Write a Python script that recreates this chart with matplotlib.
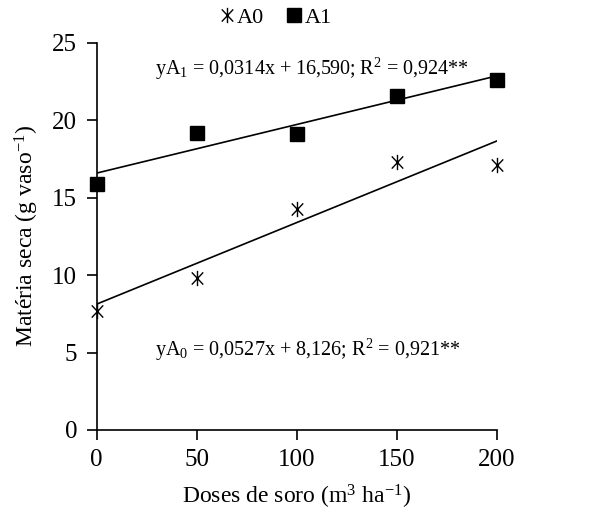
import matplotlib
matplotlib.use("Agg")
import matplotlib.pyplot as plt
from matplotlib.path import Path
import numpy as np

plt.rcParams['font.family'] = ['Liberation Serif', 'DejaVu Serif']
plt.rcParams['mathtext.fontset'] = 'custom'
plt.rcParams['mathtext.rm'] = 'Liberation Serif'
plt.rcParams['mathtext.it'] = 'Liberation Serif:italic'

doses = [0, 50, 100, 150, 200]
a0 = [7.7, 9.8, 14.3, 17.3, 17.1]
a1 = [15.9, 19.2, 19.1, 21.6, 22.6]
fit_a0 = (0.0527, 8.126)
fit_a1 = (0.0314, 16.590)
xticks = [0, 50, 100, 150, 200]
yticks = [0, 5, 10, 15, 20, 25]

# asterisk-like marker: vertical bar plus an X
star_path = Path(
    [(0, -1), (0, 1), (-0.75, -0.8), (0.75, 0.8), (-0.75, 0.8), (0.75, -0.8)],
    [Path.MOVETO, Path.LINETO, Path.MOVETO, Path.LINETO, Path.MOVETO, Path.LINETO],
)

fig = plt.figure(figsize=(6.12, 5.23), dpi=100)
ax = fig.add_axes([0.158, 0.178, 0.654, 0.74])

xs = np.array([0, 200])
ax.plot(xs, fit_a1[0] * xs + fit_a1[1], color='black', lw=1.2, zorder=1)
ax.plot(xs, fit_a0[0] * xs + fit_a0[1], color='black', lw=1.2, zorder=1)
ax.plot(doses, a0, linestyle='none', marker=star_path, markersize=11,
        markeredgewidth=1.0, color='black', label='A0', clip_on=False, zorder=3)
ax.plot(doses, a1, linestyle='none', marker='s', markersize=10,
        color='black', label='A1', clip_on=False, zorder=3)

ax.set_xlim(0, 200)
ax.set_ylim(0, 25)
ax.set_xticks(xticks)
ax.set_yticks(yticks)
ax.spines['top'].set_visible(False)
ax.spines['right'].set_visible(False)
ax.spines['left'].set_linewidth(1.2)
ax.spines['bottom'].set_linewidth(1.2)
ax.tick_params(direction='out', length=7, width=1.2, labelsize=18, pad=7)

ax.set_xlabel('Doses de soro (m$^{3}$ ha$^{-1}$)', fontsize=17, labelpad=8)
ax.set_ylabel('Matéria seca (g vaso$^{-1}$)', fontsize=17, labelpad=8)

ax.text(29, 23.3, 'yA$_{1}$ = 0,0314x + 16,590; R$^{2}$ = 0,924**', fontsize=14.5,
        va='center', ha='left')
ax.text(29, 5.2, 'yA$_{0}$ = 0,0527x + 8,126; R$^{2}$ = 0,921**', fontsize=14.5,
        va='center', ha='left')

fig.legend(loc='center', bbox_to_anchor=(0.45, 0.967), ncol=2, frameon=False,
           fontsize=16, handlelength=0.7, handletextpad=0.1, columnspacing=1.0,
           borderaxespad=0)

fig.savefig('out.png', dpi=100, facecolor='white')
